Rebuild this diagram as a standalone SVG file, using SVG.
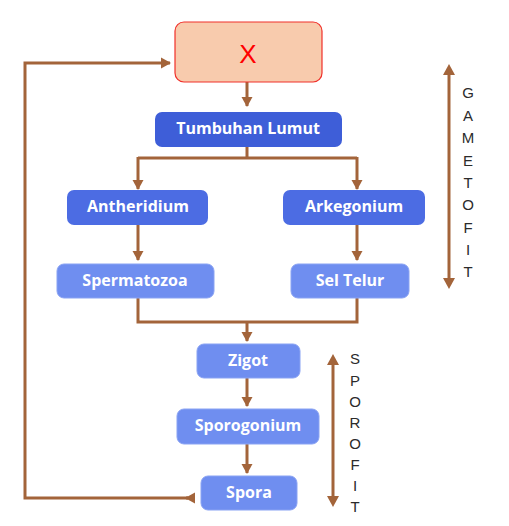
<svg xmlns="http://www.w3.org/2000/svg" width="509" height="526" viewBox="0 0 509 526">
<defs>
<marker id="ah" markerWidth="12" markerHeight="12" refX="9" refY="6" orient="auto" markerUnits="userSpaceOnUse">
<path d="M0,0.5 L10,6 L0,11.5 Z" fill="#a3643a"/>
</marker>
<marker id="ahs" markerWidth="12" markerHeight="12" refX="2" refY="6" orient="auto-start-reverse" markerUnits="userSpaceOnUse">
<path d="M0,0 L11,6 L0,12 Z" fill="#a3643a"/>
</marker>
<style>
.c{fill:none;stroke:#a3643a;stroke-width:3}
.t{font-family:"Open Sans",Lato,sans-serif;font-weight:bold;font-size:16px;fill:#fff;text-anchor:middle;dominant-baseline:central}
.l{font-family:"Liberation Sans","Open Sans",sans-serif;font-size:15px;fill:#2b2b2b;text-anchor:middle;dominant-baseline:central}
.d{fill:#3e5ed8}
.m{fill:#4c6ce3}
.s{fill:#6f8ef0;stroke:#8aa3f3;stroke-width:1}
</style>
</defs>
<rect width="509" height="526" fill="#fff"/>
<g id="connectors">
<path class="c" d="M247,82 V106" marker-end="url(#ah)"/>
<path class="c" d="M247,147 V158 M138,158 H357"/>
<path class="c" d="M138,157 V189" marker-end="url(#ah)"/>
<path class="c" d="M357,157 V189" marker-end="url(#ah)"/>
<path class="c" d="M138,225 V260" marker-end="url(#ah)"/>
<path class="c" d="M357,225 V260" marker-end="url(#ah)"/>
<path class="c" d="M138,298 V322 H357 V298 M247,322 V341" marker-end="url(#ah)"/>
<path class="c" d="M247,378 V406" marker-end="url(#ah)"/>
<path class="c" d="M247,444 V473" marker-end="url(#ah)"/>
<path class="c" d="M188,498 H25 V63 H170" marker-end="url(#ah)"/>
<path class="c" d="M188,498 H186" marker-end="url(#ah)"/>
<path class="c" d="M449,73 V280" marker-start="url(#ahs)" marker-end="url(#ahs)"/>
<path class="c" d="M333,363 V498" marker-start="url(#ahs)" marker-end="url(#ahs)"/>
</g>
<g id="nodeX">
<rect x="175" y="22" width="147" height="60" rx="9" fill="#f8cbad" stroke="#f0302a" stroke-width="1.2"/>
<text x="248" y="54" font-family="'Liberation Sans',sans-serif" font-size="26" fill="#ff0000" text-anchor="middle" dominant-baseline="central">X</text>
</g>
<g id="tumbuhan"><rect class="d" x="155" y="112" width="187" height="35" rx="7"/><text class="t" x="248" y="128">Tumbuhan Lumut</text></g>
<g id="antheridium"><rect class="m" x="67" y="190" width="141" height="35" rx="7"/><text class="t" x="138" y="206">Antheridium</text></g>
<g id="arkegonium"><rect class="m" x="283" y="190" width="142" height="35" rx="7"/><text class="t" x="354" y="206">Arkegonium</text></g>
<g id="spermatozoa"><rect class="s" x="57" y="264" width="157" height="34" rx="7"/><text class="t" x="135" y="280">Spermatozoa</text></g>
<g id="seltelur"><rect class="s" x="291" y="264" width="118" height="34" rx="7"/><text class="t" x="350" y="280">Sel Telur</text></g>
<g id="zigot"><rect class="s" x="197" y="344" width="103" height="34" rx="7"/><text class="t" x="248" y="360">Zigot</text></g>
<g id="sporogonium"><rect class="s" x="177" y="409" width="142" height="35" rx="7"/><text class="t" x="248" y="425">Sporogonium</text></g>
<g id="spora"><rect class="s" x="201" y="476" width="96" height="34" rx="7"/><text class="t" x="249" y="492">Spora</text></g>
<g id="gametofit">
<text class="l" x="468" y="92">G</text><text class="l" x="468" y="115">A</text><text class="l" x="468" y="137">M</text><text class="l" x="468" y="160">E</text><text class="l" x="468" y="182">T</text><text class="l" x="468" y="204">O</text><text class="l" x="468" y="227">F</text><text class="l" x="468" y="249">I</text><text class="l" x="468" y="271">T</text>
</g>
<g id="sporofit">
<text class="l" x="355" y="358">S</text><text class="l" x="355" y="380">P</text><text class="l" x="355" y="401">O</text><text class="l" x="355" y="422">R</text><text class="l" x="355" y="443">O</text><text class="l" x="355" y="464">F</text><text class="l" x="355" y="485">I</text><text class="l" x="355" y="506">T</text>
</g>
</svg>
